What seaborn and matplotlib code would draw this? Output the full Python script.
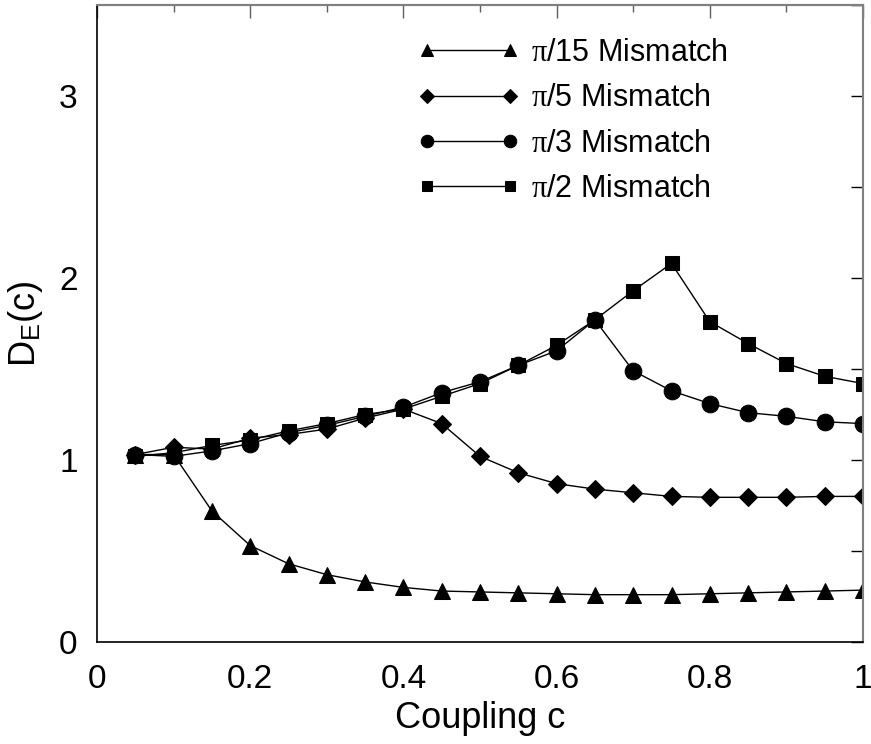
import numpy as np
import pandas as pd
import matplotlib
matplotlib.use("Agg")
import matplotlib.pyplot as plt
import seaborn as sns
from matplotlib.ticker import MultipleLocator, NullFormatter

sns.set_theme(style="white")
plt.rcParams['font.family'] = ['Liberation Sans', 'DejaVu Sans']
plt.rcParams['mathtext.fontset'] = 'custom'
plt.rcParams['mathtext.rm'] = 'Liberation Sans'
plt.rcParams['mathtext.it'] = 'Liberation Serif'
plt.rcParams['text.color'] = 'black'
plt.rcParams['axes.labelcolor'] = 'black'
plt.rcParams['xtick.color'] = 'black'
plt.rcParams['ytick.color'] = 'black'

coupling = [0.05, 0.10, 0.15, 0.20, 0.25, 0.30, 0.35, 0.40, 0.45, 0.50, 0.55,
            0.60, 0.65, 0.70, 0.75, 0.80, 0.85, 0.90, 0.95, 1.00]
pi15 = [1.03, 1.03, 0.72, 0.53, 0.43, 0.37, 0.33, 0.30, 0.28, 0.275, 0.27,
        0.265, 0.26, 0.26, 0.26, 0.265, 0.27, 0.275, 0.28, 0.285]
pi5 = [1.03, 1.07, 1.06, 1.12, 1.14, 1.17, 1.23, 1.28, 1.20, 1.02, 0.93,
       0.87, 0.84, 0.82, 0.80, 0.795, 0.795, 0.795, 0.80, 0.80]
pi3 = [1.03, 1.02, 1.05, 1.09, 1.15, 1.19, 1.24, 1.29, 1.37, 1.43, 1.52,
       1.60, 1.77, 1.49, 1.38, 1.31, 1.26, 1.24, 1.21, 1.20]
pi2 = [1.02, 1.04, 1.08, 1.11, 1.16, 1.20, 1.25, 1.28, 1.35, 1.42, 1.52,
       1.63, 1.77, 1.93, 2.08, 1.76, 1.64, 1.53, 1.46, 1.42]
labels = [r"$\pi$/15 Mismatch", r"$\pi$/5 Mismatch", r"$\pi$/3 Mismatch", r"$\pi$/2 Mismatch"]
xtick_vals = [0, 0.2, 0.4, 0.6, 0.8, 1.0]
xtick_labels = ["0", "0.2", "0.4", "0.6", "0.8", "1"]
ytick_vals = [0, 1, 2, 3]
ytick_labels = ["0", "1", "2", "3"]

fig = plt.figure(figsize=(8.71, 7.44), dpi=100)
ax = fig.add_axes([97/871, 102/744, 766/871, 637/744])

styles = [("^", 12), ("D", 9), ("o", 12), ("s", 10)]
for vals, lab, (mk, ms) in zip([pi15, pi5, pi3, pi2], labels, styles):
    df = pd.DataFrame({"c": coupling, "d": vals})
    sns.lineplot(data=df, x="c", y="d", ax=ax, color="black", lw=1.0,
                 marker=mk, markersize=ms, markeredgecolor="black",
                 markerfacecolor="black", label=lab, sort=False)

ax.set_xlim(0, 1)
ax.set_ylim(0, 3.5)
ax.set_xticks(xtick_vals)
ax.set_xticklabels(xtick_labels)
ax.xaxis.set_minor_locator(MultipleLocator(0.1))
ax.set_yticks(ytick_vals)
ax.set_yticklabels(ytick_labels)
ax.yaxis.set_minor_locator(MultipleLocator(0.5))

ax.tick_params(axis="both", which="both", labelsize=24)
ax.tick_params(axis="x", which="major", direction="inout", length=16, width=1, top=False, pad=8)
ax.tick_params(axis="x", which="minor", direction="inout", length=8, width=1, top=False)
ax.tick_params(axis="y", which="major", direction="in", length=9, width=1, right=True, pad=14)
ax.tick_params(axis="y", which="minor", direction="in", length=9, width=1, right=True)

sec = ax.secondary_xaxis("top")
sec.set_xticks(xtick_vals)
sec.xaxis.set_minor_locator(MultipleLocator(0.1))
sec.xaxis.set_major_formatter(NullFormatter())
sec.tick_params(axis="x", which="major", direction="in", length=9, width=1, color="#606060")
sec.tick_params(axis="x", which="minor", direction="in", length=5, width=1, color="#606060")
sec.spines["top"].set_color("#808080")
sec.spines["top"].set_linewidth(1.5)

for s in ["left", "bottom"]:
    ax.spines[s].set_color("black")
    ax.spines[s].set_linewidth(1.2)
for s in ["right", "top"]:
    ax.spines[s].set_color("#808080")
    ax.spines[s].set_linewidth(1.5)

ax.set_xlabel("Coupling c", fontsize=26, labelpad=4)
ax.set_ylabel(r"D$_{\rm E}$(c)", fontsize=26, labelpad=10)

leg = ax.legend(loc="upper left", bbox_to_anchor=(418/871, 1 - 38/744),
                bbox_transform=fig.transFigure, frameon=False, fontsize=22,
                numpoints=2, handlelength=3.3, handletextpad=0.4,
                borderpad=0, borderaxespad=0, labelspacing=0.5,
                markerscale=0.75)

fig.savefig("out.png", dpi=100)
